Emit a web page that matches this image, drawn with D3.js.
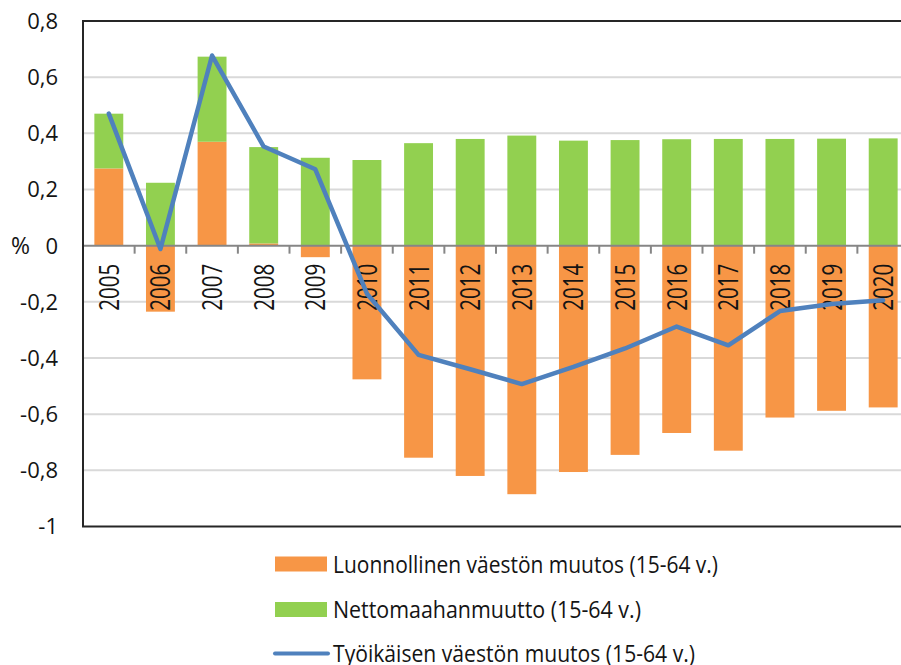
<!DOCTYPE html>
<html>
<head>
<meta charset="utf-8">
<script src="https://cdn.jsdelivr.net/npm/d3@7"></script>
<style>
  body { margin: 0; background: #fff; }
  svg { display: block; font-family: "Open Sans", sans-serif; }
</style>
</head>
<body>
<svg id="chart" width="901" height="665"></svg>
<script>
// Years on the x axis
var years = ["2005", "2006", "2007", "2008", "2009", "2010", "2011", "2012",
  "2013", "2014", "2015", "2016", "2017", "2018", "2019", "2020"];

// Natural change of working-age population (%)
var natural = [0.275, -0.235, 0.37, 0.008, -0.041, -0.476, -0.755, -0.82,
  -0.885, -0.806, -0.745, -0.667, -0.73, -0.612, -0.588, -0.576];

// Net immigration (%)
var netImm = [0.195, 0.224, 0.303, 0.343, 0.313, 0.305, 0.365, 0.38,
  0.392, 0.374, 0.376, 0.379, 0.38, 0.38, 0.381, 0.382];

// Total change of working-age population (%)
var total = [0.47, -0.012, 0.677, 0.353, 0.272, -0.171, -0.389, -0.44,
  -0.493, -0.432, -0.366, -0.288, -0.355, -0.233, -0.208, -0.194];

var yTicks = [0.8, 0.6, 0.4, 0.2, 0, -0.2, -0.4, -0.6, -0.8, -1];

var legendLabels = ["Luonnollinen väestön muutos (15-64 v.)",
  "Nettomaahanmuutto (15-64 v.)",
  "Työikäisen väestön muutos (15-64 v.)"];

var colOrange = "#f79646", colGreen = "#92d050", colBlue = "#4f81bd";

var plotLeft = 83, plotTop = 21, plotW = 826, plotBottom = 526.5;

var svg = d3.select("#chart");

var x = d3.scaleBand()
  .domain(years)
  .range([plotLeft, plotLeft + plotW])
  .paddingInner(0.44)
  .paddingOuter(0.22);

var y = d3.scaleLinear()
  .domain([-1, 0.8])
  .range([plotBottom, plotTop]);

// Gridlines
svg.append("g")
  .selectAll("line")
  .data(yTicks.filter(function(d) { return d !== 0 && d !== -1 && d !== 0.8; }))
  .enter().append("line")
  .attr("x1", plotLeft).attr("x2", plotLeft + plotW)
  .attr("y1", function(d) { return y(d); })
  .attr("y2", function(d) { return y(d); })
  .attr("stroke", "#d9d9d9")
  .attr("stroke-width", 2);

// Y tick labels
function fmt(d) { return String(d).replace(".", ","); }
svg.append("g")
  .selectAll("text")
  .data(yTicks)
  .enter().append("text")
  .attr("x", 58)
  .attr("y", function(d) { return y(d); })
  .attr("dy", "0.36em")
  .attr("text-anchor", "end")
  .attr("font-size", 22)
  .attr("fill", "#141414")
  .text(fmt);

svg.append("text")
  .attr("x", 11).attr("y", y(0)).attr("dy", "0.36em")
  .attr("font-size", 23).attr("fill", "#141414")
  .text("%");

// Bars: orange natural change, green stacked on top on the positive side
var bars = svg.append("g");
bars.selectAll(".nat")
  .data(natural)
  .enter().append("rect")
  .attr("class", "nat")
  .attr("x", function(d, i) { return x(years[i]); })
  .attr("width", x.bandwidth())
  .attr("y", function(d) { return y(Math.max(0, d)); })
  .attr("height", function(d) { return Math.abs(y(d) - y(0)); })
  .attr("fill", colOrange);

bars.selectAll(".net")
  .data(netImm)
  .enter().append("rect")
  .attr("class", "net")
  .attr("x", function(d, i) { return x(years[i]); })
  .attr("width", x.bandwidth())
  .attr("y", function(d, i) { return y(d + Math.max(0, natural[i])); })
  .attr("height", function(d) { return y(0) - y(d); })
  .attr("fill", colGreen);

// Zero axis with tick marks between categories
svg.append("line")
  .attr("x1", plotLeft).attr("x2", plotLeft + plotW)
  .attr("y1", y(0)).attr("y2", y(0))
  .attr("stroke", "#868686").attr("stroke-width", 2);

svg.append("g")
  .selectAll("line")
  .data(d3.range(1, years.length))
  .enter().append("line")
  .attr("x1", function(i) { return plotLeft + i * x.step(); })
  .attr("x2", function(i) { return plotLeft + i * x.step(); })
  .attr("y1", y(0)).attr("y2", y(0) + 8)
  .attr("stroke", "#868686").attr("stroke-width", 2);

// Year labels, rotated
svg.append("g")
  .selectAll("text")
  .data(years)
  .enter().append("text")
  .attr("transform", function(d) {
    return "translate(" + (x(d) + x.bandwidth() / 2 + 10) + "," + (y(0) + 18) + ") rotate(-90)";
  })
  .attr("text-anchor", "end")
  .attr("font-size", 27)
  .attr("textLength", 47)
  .attr("lengthAdjust", "spacingAndGlyphs")
  .attr("fill", "#141414")
  .text(function(d) { return d; });

// Line
var line = d3.line()
  .x(function(d, i) { return x(years[i]) + x.bandwidth() / 2; })
  .y(function(d) { return y(d); });

svg.append("path")
  .datum(total)
  .attr("d", line)
  .attr("fill", "none")
  .attr("stroke", colBlue)
  .attr("stroke-width", 4.5)
  .attr("stroke-linejoin", "round")
  .attr("stroke-linecap", "round");

// Plot border (left, top, bottom)
svg.append("path")
  .attr("d", "M" + (plotLeft + plotW) + "," + plotTop + "H" + plotLeft + "V" + plotBottom + "H" + (plotLeft + plotW))
  .attr("fill", "none")
  .attr("stroke", "#262626")
  .attr("stroke-width", 2);

// Legend
var legend = svg.append("g");
var legY = [564, 609.5, 653.5];
var legWidths = [385, 308, 362];
legendLabels.forEach(function(lbl, i) {
  if (i < 2) {
    legend.append("rect")
      .attr("x", 275).attr("y", legY[i] - 7.5)
      .attr("width", 52).attr("height", 15)
      .attr("fill", i === 0 ? colOrange : colGreen);
  } else {
    legend.append("line")
      .attr("x1", 275).attr("x2", 328)
      .attr("y1", legY[i]).attr("y2", legY[i])
      .attr("stroke", colBlue).attr("stroke-width", 4)
      .attr("stroke-linecap", "round");
  }
  legend.append("text")
    .attr("x", 333).attr("y", legY[i] + 8.5)
    .attr("font-size", 23)
    .attr("textLength", legWidths[i])
    .attr("lengthAdjust", "spacingAndGlyphs")
    .attr("fill", "#141414")
    .text(lbl);
});
</script>
</body>
</html>
